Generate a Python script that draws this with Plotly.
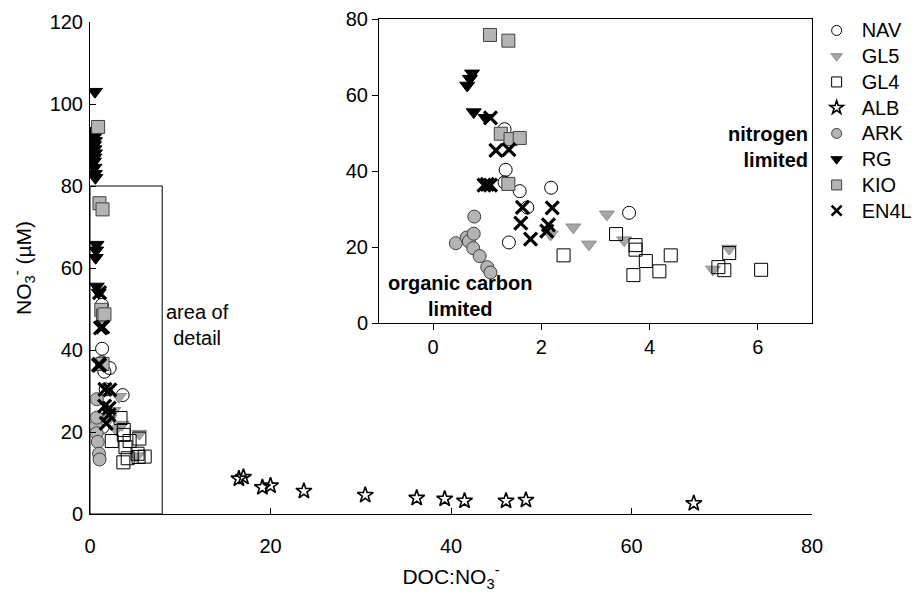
import plotly.graph_objects as go

# ---- data (DOC:NO3- , NO3- uM) ----
NAV_x = [1.32, 1.34, 1.32, 1.60, 2.18, 1.74, 1.40, 3.62]
NAV_y = [51.0, 40.3, 37.0, 34.7, 35.6, 30.4, 21.2, 29.0]

GL5_x = [2.17, 2.59, 2.88, 3.21, 3.53, 5.17, 5.47]
GL5_y = [23.3, 25.2, 20.7, 28.6, 21.8, 14.1, 19.6]

GL4_x = [2.41, 3.38, 3.74, 3.74, 3.93, 3.70, 4.18, 4.39, 5.27, 5.38, 5.47, 6.06]
GL4_y = [17.8, 23.4, 20.5, 19.3, 16.3, 12.6, 13.6, 17.8, 14.7, 13.9, 18.4, 14.0]

ALB_x = [16.5, 17.0, 19.1, 20.0, 23.7, 30.5, 36.2, 39.3, 41.5, 46.1, 48.3, 66.9]
ALB_y = [8.6, 9.0, 6.5, 6.9, 5.6, 4.6, 3.9, 3.7, 3.2, 3.2, 3.4, 2.6]

ARK_x = [0.42, 0.62, 0.66, 0.75, 0.76, 0.74, 0.86, 1.00, 1.06]
ARK_y = [21.0, 22.5, 21.5, 23.5, 28.0, 19.7, 17.6, 14.7, 13.3]

RG_x = [0.55, 0.45, 0.50, 0.55, 0.45, 0.50, 0.55, 0.50, 0.45, 0.50, 0.55, 0.60,
        0.72, 0.68, 0.63, 0.75, 0.97]
RG_y = [103.0, 93.5, 92.0, 91.0, 90.0, 89.0, 88.0, 87.0, 86.0, 84.5, 83.0, 82.0,
        65.7, 64.3, 62.5, 55.5, 54.0]

KIO_x = [0.90, 1.05, 1.39, 1.25, 1.43, 1.60, 1.39]
KIO_y = [94.4, 75.8, 74.3, 49.8, 48.4, 48.7, 36.6]

EN4L_x = [1.06, 1.16, 1.40, 0.94, 1.00, 1.06, 1.65, 2.20, 1.62, 1.80, 2.13, 2.10]
EN4L_y = [54.0, 45.4, 45.6, 36.3, 36.5, 36.3, 30.4, 30.3, 26.3, 22.1, 25.8, 24.2]

series = [
    ("NAV", NAV_x, NAV_y, dict(symbol="circle-open", color="black", line=dict(width=1))),
    ("GL5", GL5_x, GL5_y, dict(symbol="triangle-down", color="#a6a6a6", line=dict(color="#8c8c8c", width=1))),
    ("GL4", GL4_x, GL4_y, dict(symbol="square-open", color="black", line=dict(width=1))),
    ("ALB", ALB_x, ALB_y, dict(symbol="star-open", color="black", line=dict(width=1.6))),
    ("ARK", ARK_x, ARK_y, dict(symbol="circle", color="#b4b4b4", line=dict(color="#404040", width=1))),
    ("RG", RG_x, RG_y, dict(symbol="triangle-down", color="black", line=dict(color="black", width=1))),
    ("KIO", KIO_x, KIO_y, dict(symbol="square", color="#b4b4b4", line=dict(color="#404040", width=1))),
    ("EN4L", EN4L_x, EN4L_y, dict(symbol="x-thin-open", color="black", line=dict(color="black", width=3.2))),
]

fig = go.Figure()
MS = 13
for name, xs, ys, mk in series:
    size = 12 if name == "ALB" else MS
    fig.add_trace(go.Scatter(x=xs, y=ys, mode="markers", name=name, marker=dict(mk, size=size),
                             xaxis="x", yaxis="y", showlegend=False))
for name, xs, ys, mk in series:
    fig.add_trace(go.Scatter(x=xs, y=ys, mode="markers", name=name, marker=dict(mk, size=MS),
                             xaxis="x2", yaxis="y2", showlegend=False))
# legend entries (smaller symbols as in the reference key)
for name, xs, ys, mk in series:
    lm = dict(mk, size=10)
    if name == "EN4L":
        lm["line"] = dict(color="black", width=2.6)
    fig.add_trace(go.Scatter(x=[None], y=[None], mode="markers",
                             name='<span style="font-size:20px">%s</span>' % name, marker=lm,
                             xaxis="x", yaxis="y", showlegend=True))

FONT = "Liberation Sans, Arial, sans-serif"
tickfont = dict(family=FONT, size=20, color="black")

fig.update_layout(
    width=917, height=597,
    margin=dict(l=90, r=105, t=19, b=83, autoexpand=False),
    paper_bgcolor="white", plot_bgcolor="white",
    font=dict(family=FONT, size=20, color="black"),
    xaxis=dict(domain=[0, 1], range=[0, 80], tickvals=[0, 20, 40, 60, 80],
               showline=True, linecolor="black", linewidth=1, ticks="inside", ticklen=6,
               tickcolor="black", showgrid=False, zeroline=False, tickfont=tickfont,
               ticklabelstandoff=14,
               title=dict(text="DOC:NO<sub>3</sub><sup>-</sup>", font=dict(size=21), standoff=13)),
    yaxis=dict(domain=[0, 492 / 495], range=[0, 120], tickvals=[0, 20, 40, 60, 80, 100, 120],
               showline=True, linecolor="black", linewidth=1, ticks="inside", ticklen=6,
               tickcolor="black", showgrid=False, zeroline=False, tickfont=tickfont,
               ticklabelstandoff=2,
               title=dict(text="NO<sub>3</sub><sup>-</sup> (µM)", font=dict(size=21), standoff=12)),
    xaxis2=dict(domain=[(379 - 90) / 722, 1], range=[-1, 7], tickvals=[0, 2, 4, 6],
                anchor="y2", showline=True, mirror=True, linecolor="black", linewidth=1,
                ticks="outside", ticklen=6, tickcolor="black", showgrid=False, zeroline=False,
                tickfont=tickfont),
    yaxis2=dict(domain=[(514 - 323) / 495, 1], range=[0, 80], tickvals=[0, 20, 40, 60, 80],
                anchor="x2", showline=True, mirror=True, linecolor="black", linewidth=1,
                ticks="outside", ticklen=6, tickcolor="black", showgrid=False, zeroline=False,
                tickfont=tickfont),
    legend=dict(x=0.9995, xanchor="left", y=1.013, yanchor="top", font=dict(family=FONT, size=17.5),
                bgcolor="rgba(0,0,0,0)", borderwidth=0, itemwidth=40),
    shapes=[
        dict(type="rect", xref="x2", yref="y2 domain", x0=2.86, x1=5.14, y0=0, y1=1,
             fillcolor="#d4d4d4", line=dict(width=0), layer="below"),
        dict(type="rect", xref="x", yref="y", x0=0, x1=8, y0=0, y1=80,
             fillcolor="rgba(0,0,0,0)", line=dict(color="black", width=1), layer="below"),
    ],
    annotations=[
        dict(xref="x", yref="y", x=11.9, y=46, text="area of<br>detail", showarrow=False,
             font=dict(family=FONT, size=20), align="center"),
        dict(xref="x2", yref="y2", x=0.5, y=7, text="<b>organic carbon<br>limited</b>",
             showarrow=False, font=dict(family=FONT, size=20), align="center"),
        dict(xref="x2", yref="y2", x=6.97, y=46.3, xanchor="right", text="<b>nitrogen<br>limited</b>",
             showarrow=False, font=dict(family=FONT, size=20), align="right"),
    ],
)

fig.write_html("out.html")
